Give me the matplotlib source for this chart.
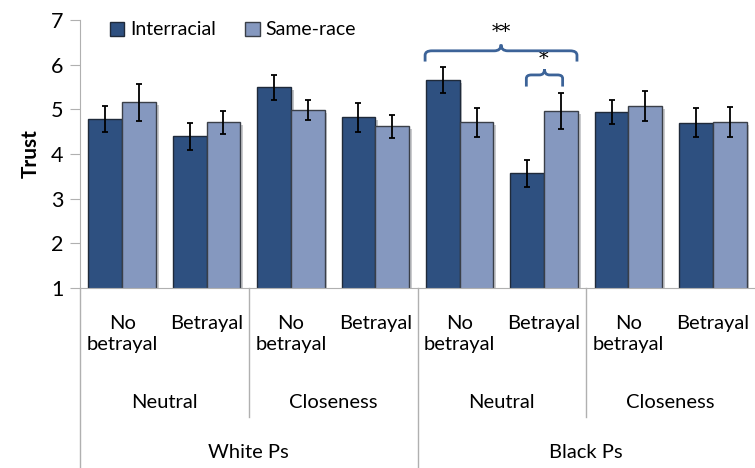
import numpy as np
import matplotlib.pyplot as plt
import matplotlib.patheffects as pe
from matplotlib.path import Path
from matplotlib.patches import PathPatch
from matplotlib.transforms import blended_transform_factory

plt.rcParams['font.family'] = ['Lato', 'DejaVu Sans']

# data
conditions = ['No\nbetrayal', 'Betrayal'] * 4
contexts = ['Neutral', 'Closeness', 'Neutral', 'Closeness']
races = ['White Ps', 'Black Ps']
interracial = [4.78, 4.40, 5.49, 4.82, 5.65, 3.57, 4.94, 4.70]
same_race = [5.16, 4.71, 4.99, 4.62, 4.71, 4.96, 5.08, 4.72]
interracial_err = [0.29, 0.30, 0.27, 0.33, 0.29, 0.30, 0.27, 0.33]
same_race_err = [0.41, 0.26, 0.22, 0.26, 0.33, 0.41, 0.33, 0.33]

dark = '#2e5080'
light = '#8598bf'
brace_col = '#3c6398'

fig = plt.figure(figsize=(7.55, 4.68), dpi=100)
ax = fig.add_axes([80 / 755, 180 / 468, 675 / 755, 268 / 468])

x = np.arange(len(interracial))
shadow = [pe.SimplePatchShadow(offset=(2, -2), alpha=0.25), pe.Normal()]
b1 = ax.bar(x + 0.3, interracial, 0.4, color=dark, edgecolor='#1f2a3a', linewidth=1, label='Interracial', zorder=2)
b2 = ax.bar(x + 0.7, same_race, 0.4, color=light, edgecolor='#3a3f48', linewidth=1, label='Same-race', zorder=2)
for b in list(b1) + list(b2):
    b.set_path_effects(shadow)
ax.errorbar(x + 0.3, interracial, yerr=interracial_err, fmt='none', ecolor='black', elinewidth=1.3, capsize=2.3, capthick=1.3, zorder=3)
ax.errorbar(x + 0.7, same_race, yerr=same_race_err, fmt='none', ecolor='black', elinewidth=1.3, capsize=2.3, capthick=1.3, zorder=3)

ax.set_xlim(0, 8)
ax.set_ylim(1, 7)
ax.set_yticks(range(1, 8))
ax.set_xticks([])
ax.tick_params(axis='y', direction='out', length=7, color='#b0b0b0', labelsize=15.5, pad=5)
for s in ['top', 'right']:
    ax.spines[s].set_visible(False)
ax.spines['left'].set_color('#b0b0b0')
ax.spines['bottom'].set_color('#b0b0b0')
ax.set_ylabel('Trust', fontsize=15, fontweight='bold', labelpad=7)

leg = ax.legend(loc='upper left', bbox_to_anchor=(0.018, 1.06), ncol=2, frameon=False, fontsize=14,
                handlelength=0.75, handleheight=0.75, handletextpad=0.3, columnspacing=1.5)
for h in leg.legend_handles:
    h.set_path_effects([])

# category table below the axis
tr = blended_transform_factory(ax.transData, fig.transFigure)
def fy(p):
    return (468 - p) / 468

for i, lab in enumerate(conditions):
    ax.text(i + 0.5, fy(315), lab, transform=tr, ha='center', va='top', fontsize=14.5, linespacing=1.3)
for i, lab in enumerate(contexts):
    ax.text(2 * i + 1, fy(403), lab, transform=tr, ha='center', va='center', fontsize=14.5)
for i, lab in enumerate(races):
    ax.text(4 * i + 2, fy(453), lab, transform=tr, ha='center', va='center', fontsize=14.5)

line_kw = dict(color='#b0b0b0', lw=1, transform=tr, clip_on=False)
ax.plot([0, 0], [fy(288), 0], **line_kw)
ax.plot([4, 4], [fy(288), 0], **line_kw)
for gx in [2, 6]:
    ax.plot([gx, gx], [fy(288), fy(417)], **line_kw)

# significance braces
def brace(x0, x1, yb, yh, yt, rx=0.08, ry=0.1):
    xc = (x0 + x1) / 2
    verts = [(x0, yb), (x0, yh - ry), (x0, yh), (x0 + rx, yh),
             (xc - rx, yh), (xc, yh), (xc, yt),
             (xc, yt), (xc, yh), (xc + rx, yh),
             (x1 - rx, yh), (x1, yh), (x1, yh - ry), (x1, yb)]
    codes = [Path.MOVETO, Path.LINETO, Path.CURVE3, Path.CURVE3,
             Path.LINETO, Path.CURVE3, Path.CURVE3,
             Path.MOVETO, Path.CURVE3, Path.CURVE3,
             Path.LINETO, Path.CURVE3, Path.CURVE3, Path.LINETO]
    ax.add_patch(PathPatch(Path(verts, codes), fill=False, edgecolor=brace_col, lw=2, clip_on=False, zorder=4))

brace(4.09, 5.89, 6.07, 6.31, 6.45)
brace(5.29, 5.72, 5.51, 5.77, 5.90, rx=0.06, ry=0.08)
ax.text(4.99, 6.74, '**', ha='center', va='center', fontsize=14, family='DejaVu Serif', clip_on=False)
ax.text(5.49, 6.13, '*', ha='center', va='center', fontsize=14, family='DejaVu Serif', clip_on=False)

fig.savefig('out.png', dpi=100)
